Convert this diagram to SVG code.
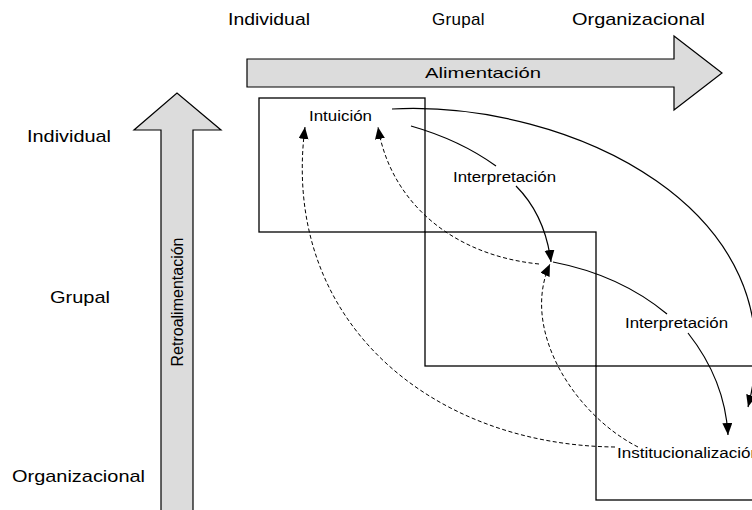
<svg xmlns="http://www.w3.org/2000/svg" width="752" height="510" viewBox="0 0 752 510">
<style>
.lbl{font-family:"Liberation Sans",Arial,sans-serif;font-size:17px;fill:#000}
.in{font-family:"Liberation Sans",Arial,sans-serif;font-size:14px;fill:#000}
.box{fill:none;stroke:#000;stroke-width:1.3}
.big{fill:#dcdcdc;stroke:#000;stroke-width:1.2}
.sol{fill:none;stroke:#000;stroke-width:1.2}
.dsh{fill:none;stroke:#000;stroke-width:1;stroke-dasharray:4,2.5}
</style>
<defs>
<marker id="ah" markerUnits="userSpaceOnUse" markerWidth="13" markerHeight="11" refX="12" refY="5" orient="auto" viewBox="0 0 13 11">
<path d="M0,0 L12,5 L0,10 z" fill="#000"/>
</marker>
</defs>
<rect width="752" height="510" fill="#fff"/>
<g id="axis-labels">
<text class="lbl" x="228" y="25" textLength="82" lengthAdjust="spacingAndGlyphs">Individual</text>
<text class="lbl" x="432" y="25" letter-spacing="0.3">Grupal</text>
<text class="lbl" x="572" y="25" textLength="133" lengthAdjust="spacingAndGlyphs">Organizacional</text>
<text class="lbl" x="27" y="142" textLength="84" lengthAdjust="spacingAndGlyphs">Individual</text>
<text class="lbl" x="50" y="303" textLength="60" lengthAdjust="spacingAndGlyphs">Grupal</text>
<text class="lbl" x="12" y="482" textLength="133" lengthAdjust="spacingAndGlyphs">Organizacional</text>
</g>
<g id="alimentacion">
<polygon class="big" points="247,59 674,59 674,36 722,73 674,110 674,87 247,87"/>
<text class="in" style="font-size:15px" x="425" y="78" textLength="116" lengthAdjust="spacingAndGlyphs">Alimentación</text>
</g>
<g id="retroalimentacion">
<polygon class="big" points="161,512 161,130 134,130 177,93 221,130 193,130 193,512"/>
<text class="in" style="font-size:16px" transform="translate(183,302) rotate(-90)" x="0" y="0" text-anchor="middle">Retroalimentación</text>
</g>
<g id="box-individual"><rect class="box" x="259" y="98" width="166" height="134"/></g>
<g id="box-grupal"><rect class="box" x="425" y="232" width="171" height="134"/></g>
<g id="box-organizacional"><rect class="box" x="596" y="366" width="200" height="134"/></g>
<g id="connectors">
<path class="sol" d="M392,109 C570,100 800,210 748,407" marker-end="url(#ah)"/>
<path class="sol" d="M411,126 Q460,140 496,166"/>
<path class="sol" d="M516,186 Q545,215 551,262" marker-end="url(#ah)"/>
<path class="sol" d="M553,262 Q620,275 667,314"/>
<path class="sol" d="M688,333 Q725,380 728,435" marker-end="url(#ah)"/>
<path class="dsh" d="M615,447 C430,445 280,320 305,127" marker-end="url(#ah)"/>
<path class="dsh" d="M638,447 C575,415 520,330 550,264" marker-end="url(#ah)"/>
<path class="dsh" d="M539,264 C450,255 390,200 378,127" marker-end="url(#ah)"/>
</g>
<g id="node-intuicion"><text class="in" x="309" y="121" textLength="63" lengthAdjust="spacingAndGlyphs">Intuición</text></g>
<g id="node-interpretacion-1"><text class="in" x="453" y="182" textLength="103" lengthAdjust="spacingAndGlyphs">Interpretación</text></g>
<g id="node-interpretacion-2"><text class="in" x="625" y="328" textLength="103" lengthAdjust="spacingAndGlyphs">Interpretación</text></g>
<g id="node-institucionalizacion"><text class="in" x="617" y="458" textLength="143" lengthAdjust="spacingAndGlyphs">Institucionalización</text></g>
</svg>
